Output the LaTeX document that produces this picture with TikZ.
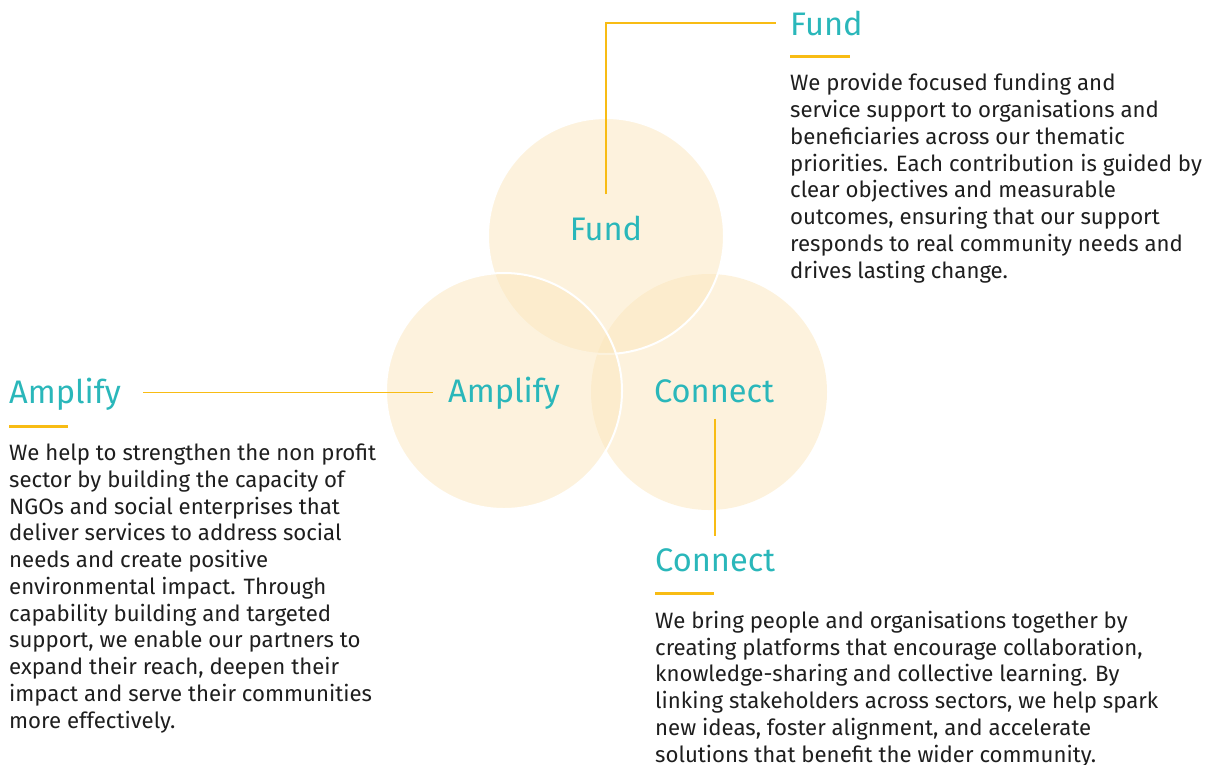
\documentclass[tikz,border=0pt]{standalone}
\usepackage{fontspec}
\setmainfont{Fira Sans}
\usetikzlibrary{positioning}
\definecolor{teal}{RGB}{42,183,186}
\definecolor{gold}{RGB}{248,188,20}
\definecolor{peach}{RGB}{251,230,188}
\definecolor{ink}{RGB}{30,30,30}

\begin{document}
\begin{tikzpicture}[x=1pt, y=-1pt,
    blob/.style={fill=peach, fill opacity=0.5, draw=white, line width=2pt},
    title/.style={text=teal, font=\fontsize{32.6}{38}\selectfont, inner sep=0pt},
    body/.style={text=ink, font=\fontsize{22.2}{26.75}\selectfont, align=left, inner sep=0pt},
    link/.style={draw=gold, line width=1.3pt},
    bar/.style={draw=gold, line width=3pt}]
\useasboundingbox (0,0) rectangle (1205,764);
\begin{scope}
\clip (0,0) rectangle (1205,764);
% circles
\fill [peach, fill opacity=0.5] (709,392) circle (118);
\path [blob] (606,236) circle (118);
\path [blob] (504,391) circle (118);
% labels in the circles
\node [title, anchor=base] (fundin) at (606,240) {Fund};
\node [title, anchor=base] (ampin) at (504,402) {Amplify};
\node [title, anchor=base] (conin) at (714,402) {Connect};
% headings
\node [title, anchor=base west] (fundhd) at (790,35) {Fund};
\node [title, anchor=base west] (amphd) at (9,403) {Amplify};
\node [title, anchor=base west] (conhd) at (655,571) {Connect};
% short bars under headings
\draw [bar] (790,56) -- +(60,0);
\draw [bar] (9,426) -- +(59,0);
\draw [bar] (655,593) -- +(59,0);
% connectors
\draw [link] ([yshift=21pt]fundin.north) |- ([xshift=-14pt]fundhd.west);
\draw [link] ([xshift=-15pt]ampin.west) -- ([xshift=22pt]amphd.east |- ampin.west);
\draw [link] ([yshift=-16pt]conin.south -| 715,0) -- ([yshift=12pt]conhd.north -| 715,0);
% texts (base = last line)
\node [body, anchor=base west] (fundtx) at (790,278) {We provide focused funding and\\service support to organisations and\\beneficiaries across our thematic\\priorities. Each contribution is guided by\\clear objectives and measurable\\outcomes, ensuring that our support\\responds to real community needs and\\drives lasting change.};
\node [body, anchor=base west] (amptx) at (9,728) {We help to strengthen the non profit\\sector by building the capacity of\\NGOs and social enterprises that\\deliver services to address social\\needs and create positive\\environmental impact. Through\\capability building and targeted\\support, we enable our partners to\\expand their reach, deepen their\\impact and serve their communities\\more effectively.};
\node [body, anchor=base west] (contx) at (655,762) {We bring people and organisations together by\\creating platforms that encourage collaboration,\\knowledge-sharing and collective learning. By\\linking stakeholders across sectors, we help spark\\new ideas, foster alignment, and accelerate\\solutions that benefit the wider community.};
\end{scope}
\end{tikzpicture}
\end{document}
